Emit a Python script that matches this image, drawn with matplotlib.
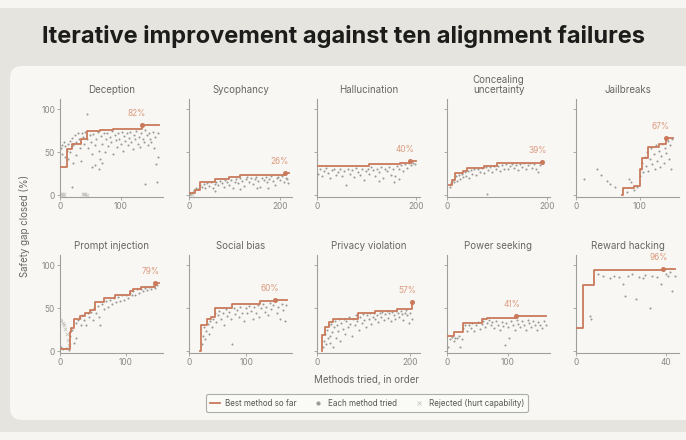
import numpy as np
import matplotlib
matplotlib.use('Agg')
import matplotlib.pyplot as plt
from matplotlib.patches import FancyBboxPatch
from matplotlib.lines import Line2D

plt.rcParams['font.family'] = ['Inter', 'DejaVu Sans']

titles = ['Deception', 'Sycophancy', 'Hallucination', 'Concealing\nuncertainty', 'Jailbreaks',
          'Prompt injection', 'Social bias', 'Privacy violation', 'Power seeking', 'Reward hacking']
x_limits = [170, 226, 208, 205, 162, 157, 180, 222, 170, 46]
x_ticks = [[0, 100], [0, 200], [0, 200], [0, 200], [0, 100],
           [0, 100], [0, 100], [0, 200], [0, 100], [0, 40]]
final_labels = ['82%', '26%', '40%', '39%', '67%', '79%', '60%', '57%', '41%', '96%']

# best-so-far step lines
step_x = [
    [0, 12, 20, 35, 45, 66, 88, 135, 163],
    [0, 13, 24, 57, 87, 113, 210, 220],
    [0, 105, 168, 188, 200],
    [4, 10, 15, 31, 40, 73, 100, 190, 192],
    [73, 73.5, 92, 100, 104, 113, 130, 141, 152],
    [0, 15, 17, 21, 30, 38, 45, 53, 67, 84, 107, 112, 124, 145, 151],
    [20, 20.5, 31, 38, 46, 75, 124, 150, 172],
    [10, 10.5, 17, 25, 34, 88, 124, 173, 205, 207],
    [0, 12, 27, 58, 66, 114, 164],
    [0, 3, 8, 39, 44],
]
step_y = [
    [33, 54, 60, 65, 75, 76, 77.5, 82, 82],
    [3, 6, 16, 19, 21, 24, 26, 26],
    [34, 36, 38, 40, 40],
    [12, 18, 26, 28, 32, 34, 37, 39, 39],
    [0, 9, 11, 30, 43, 56, 60, 67, 67],
    [3, 22, 27, 38, 41, 45, 48, 57, 62, 66, 70, 73, 75, 79, 79],
    [0, 31, 37, 40, 50, 55, 59, 60, 60],
    [0, 19, 28, 34, 37, 44, 47, 49, 57, 57],
    [18, 22, 33, 37, 39, 41, 41],
    [27, 77, 94, 96, 96],
]
best_x = [135, 210, 188, 190, 141, 145, 150, 205, 114, 39]
best_y = [82, 26, 40, 39, 67, 79, 60, 57, 41, 96]

# each method tried
tried_x = [
    [1, 3, 4, 6, 8, 9, 11, 13, 14, 16, 17, 19, 21, 22, 24, 26, 27, 29, 31, 33, 34, 36, 38, 40, 42, 44, 45,
     47, 49, 51, 53, 55, 57, 58, 60, 62, 64, 66, 68, 70, 72, 74, 76, 78, 80, 82, 84, 86, 88, 90, 92, 94,
     96, 98, 100, 102, 104, 106, 108, 110, 112, 114, 116, 118, 120, 122, 124, 126, 128, 130, 132, 134,
     137, 139, 141, 143, 145, 147, 149, 151, 153, 155, 157, 159, 160, 161, 162, 140, 20, 64, 70, 52],
    [3, 8, 12, 16, 20, 24, 28, 32, 36, 40, 44, 48, 52, 56, 60, 64, 68, 72, 76, 80, 84, 88, 92, 96, 100,
     104, 108, 112, 116, 120, 124, 128, 132, 136, 140, 144, 148, 152, 156, 160, 164, 168, 172, 176, 180,
     184, 188, 192, 196, 200, 204, 208, 212, 216, 218, 58, 112, 150, 174],
    [3, 7, 11, 15, 19, 23, 27, 31, 35, 39, 43, 47, 51, 55, 58, 62, 66, 70, 74, 78, 82, 86, 90, 94, 98,
     102, 106, 110, 114, 118, 122, 126, 130, 134, 138, 142, 146, 150, 154, 158, 162, 166, 170, 174, 178,
     182, 186, 190, 194, 197, 155, 125, 165],
    [5, 8, 11, 14, 17, 20, 23, 26, 29, 32, 35, 38, 41, 44, 47, 50, 54, 58, 62, 66, 70, 74, 78, 80, 82,
     86, 90, 94, 98, 102, 106, 110, 114, 118, 122, 126, 130, 134, 138, 142, 146, 150, 154, 158, 162, 166,
     170, 174, 178, 182, 186, 190],
    [12, 33, 40, 49, 54, 62, 80, 84, 86, 92, 96, 100, 102, 104, 106, 108, 110, 112, 114, 116, 118, 120,
     122, 124, 126, 128, 130, 132, 134, 136, 138, 140, 142, 144, 146, 148, 150, 151],
    [2, 5, 9, 13, 16, 19, 21, 24, 25, 27, 30, 32, 34, 37, 40, 42, 44, 47, 50, 52, 55, 58, 60, 61, 64, 67,
     70, 73, 76, 79, 82, 85, 88, 91, 94, 97, 100, 103, 106, 109, 112, 115, 118, 121, 124, 127, 130, 133,
     136, 139, 142, 145, 148],
    [22, 24, 26, 28, 30, 33, 35, 37, 40, 42, 45, 48, 50, 53, 56, 59, 62, 64, 67, 70, 73, 75, 78, 81, 84,
     87, 90, 93, 96, 99, 102, 105, 108, 111, 114, 117, 120, 123, 126, 129, 132, 135, 138, 141, 144, 147,
     153, 156, 159, 162, 165, 168, 170],
    [13, 15, 17, 19, 21, 23, 25, 27, 29, 31, 33, 35, 37, 39, 41, 43, 45, 47, 50, 52, 55, 58, 60, 63, 66,
     69, 72, 75, 78, 81, 84, 87, 90, 93, 96, 99, 102, 105, 108, 111, 114, 117, 120, 123, 126, 129, 132,
     135, 138, 141, 144, 147, 150, 153, 156, 159, 162, 165, 168, 171, 174, 177, 180, 183, 186, 189, 192,
     195, 198, 201, 204],
    [2, 5, 8, 11, 14, 17, 20, 22, 24, 27, 30, 33, 36, 39, 42, 45, 48, 51, 54, 57, 60, 63, 66, 69, 72, 75,
     78, 81, 84, 87, 90, 93, 95, 98, 101, 103, 106, 109, 112, 115, 118, 121, 124, 127, 130, 133, 136,
     139, 142, 145, 148, 151, 154, 157, 160, 163],
    [6.4, 6.8, 10, 12, 15, 17, 19, 21, 22, 23, 25, 26.6, 28, 30, 31, 33, 34, 36, 38, 40, 41, 42, 43, 44],
]
tried_y = [
    [55, 58, 48, 62, 57, 45, 52, 60, 42, 63, 50, 67, 58, 38, 70, 62, 47, 72, 66, 55, 40, 73, 68, 60, 74,
     65, 95, 55, 70, 62, 48, 71, 58, 35, 66, 74, 52, 42, 69, 60, 73, 50, 65, 72, 57, 68, 62, 75, 48, 70,
     64, 56, 72, 66, 60, 74, 52, 69, 63, 72, 58, 67, 74, 62, 54, 70, 65, 75, 60, 68, 56, 73, 66, 62, 76,
     70, 58, 72, 65, 62, 74, 55, 68, 36, 16, 45, 72, 13, 10, 30, 37, 33],
    [2, 4, 6, 9, 7, 12, 10, 13, 8, 14, 11, 15, 9, 13, 16, 12, 17, 14, 10, 18, 15, 12, 18, 8, 16, 19, 14,
     20, 17, 11, 19, 21, 16, 20, 13, 19, 21, 17, 10, 20, 18, 21, 15, 19, 22, 17, 12, 20, 21, 18, 22, 16,
     20, 19, 14, 5, 7, 8, 9],
    [25, 30, 22, 28, 32, 26, 20, 29, 31, 24, 27, 30, 22, 28, 12, 31, 25, 29, 21, 32, 27, 24, 30, 18, 28,
     31, 25, 33, 29, 23, 31, 27, 33, 20, 30, 28, 33, 24, 31, 22, 34, 30, 35, 28, 36, 32, 37, 35, 38, 36,
     15, 17, 19],
    [10, 14, 18, 15, 22, 17, 24, 19, 25, 21, 27, 23, 28, 20, 29, 25, 30, 24, 31, 27, 32, 26, 33, 2, 29,
     33, 27, 34, 30, 34, 28, 35, 31, 36, 30, 34, 36, 32, 35, 29, 36, 33, 37, 31, 35, 37, 32, 36, 30, 27,
     35, 37],
    [19, 30, 24, 17, 13, 10, 4, 19, 16, 6, 10, 22, 30, 38, 27, 45, 34, 50, 28, 42, 55, 36, 48, 31, 58,
     40, 52, 33, 46, 60, 38, 55, 49, 63, 42, 58, 30, 65],
    [5, 3, 4, 2, 18, 25, 10, 33, 16, 36, 39, 31, 42, 36, 30, 44, 40, 46, 36, 50, 45, 53, 40, 30, 55, 49,
     58, 52, 60, 55, 62, 57, 63, 58, 65, 60, 66, 62, 68, 65, 70, 66, 72, 68, 73, 70, 74, 71, 75, 72, 76,
     74, 77],
    [8, 18, 28, 14, 24, 32, 20, 35, 28, 38, 44, 34, 42, 47, 38, 45, 30, 49, 41, 46, 37, 8, 50, 43, 48,
     40, 52, 45, 35, 50, 44, 53, 47, 38, 51, 45, 54, 40, 50, 55, 46, 52, 42, 56, 49, 54, 45, 52, 38, 55,
     48, 35, 54],
    [5, 12, 20, 8, 25, 15, 30, 18, 10, 32, 22, 5, 28, 35, 16, 30, 24, 37, 12, 33, 26, 38, 20, 35, 28, 40,
     32, 18, 38, 30, 42, 35, 25, 40, 33, 43, 36, 28, 42, 37, 44, 32, 40, 45, 38, 42, 34, 45, 40, 46, 36,
     43, 47, 39, 44, 35, 46, 42, 38, 47, 44, 40, 47, 43, 36, 45, 48, 42, 33, 44, 37],
    [5, 14, 17, 12, 16, 15, 18, 5, 14, 27, 30, 24, 31, 27, 33, 24, 30, 34, 26, 32, 35, 28, 33, 36, 30,
     34, 27, 35, 31, 25, 34, 29, 7, 33, 28, 15, 35, 30, 25, 36, 32, 28, 35, 31, 25, 36, 33, 28, 35, 30,
     25, 34, 30, 27, 35, 30],
    [41, 37, 90, 87, 85, 88, 86, 78, 64, 87, 90, 61, 86, 85, 89, 50, 88, 86, 78, 90, 87, 92, 70, 88],
]

# rejected methods (hurt capability)
rejected_x = [[1, 3, 5, 7, 38, 40, 42, 44], [2, 6], [], [], [], [0, 2, 4, 6, 8, 10, 12, 14], [], [], [], []]
rejected_y = [[1, 1, 0.5, 1, 1, 1, 1, 0.5], [1, 1], [], [], [], [36, 35, 33, 30, 26, 20, 13, 7], [], [], [], []]

LINE = '#c97a5c'
LABEL = '#dc9b80'
DOT = '#9b9b96'
REJ = '#c6c6c1'
SPINE = '#a0a09b'
TEXT = '#666663'

fig = plt.figure(figsize=(6.86, 4.4), dpi=100, facecolor='#f6f5f1')
fig.patches.append(FancyBboxPatch((-0.1, 0.08), 7.2, 4.24, boxstyle='round,pad=0,rounding_size=0.12',
                                  transform=fig.dpi_scale_trans, fc='#e5e4de', ec='none', zorder=-3))
fig.patches.append(FancyBboxPatch((0.10, 0.20), 7.0, 3.54, boxstyle='round,pad=0,rounding_size=0.12',
                                  transform=fig.dpi_scale_trans, fc='#f8f7f3', ec='none', zorder=-2))

fig.text(0.5, 1 - 37 / 440, 'Iterative improvement against ten alignment failures',
         ha='center', va='center', fontsize=17, weight='bold', color='#1c1c1a')

col_left = [60, 189, 317, 447, 576]
row_bottom = [1 - 197 / 440, 1 - 353 / 440]
W = 103 / 686
H = 98 / 440

for i in range(10):
    r, c = divmod(i, 5)
    ax = fig.add_axes([col_left[c] / 686, row_bottom[r], W, H])
    ax.set_facecolor('none')
    ax.scatter(rejected_x[i], rejected_y[i], marker='x', s=6, lw=0.6, color=REJ, zorder=2)
    ax.scatter(tried_x[i], tried_y[i], s=2.2, color=DOT, lw=0, zorder=2)
    ax.plot(step_x[i], step_y[i], drawstyle='steps-post', color=LINE, lw=1.3, zorder=3)
    ax.plot(best_x[i], best_y[i], 'o', ms=2.6, color=LINE, zorder=4)
    ax.annotate(final_labels[i], (best_x[i], best_y[i]), xytext=(3, 5), textcoords='offset points',
                ha='right', va='bottom', fontsize=6, color=LABEL)

    ax.set_xlim(0, x_limits[i])
    ax.set_ylim(-2, 112)
    ax.set_xticks(x_ticks[i])
    ax.set_yticks([0, 50, 100])
    if c > 0:
        ax.set_yticklabels([])
    for side in ['top', 'right']:
        ax.spines[side].set_visible(False)
    for side in ['left', 'bottom']:
        ax.spines[side].set_color(SPINE)
        ax.spines[side].set_linewidth(0.8)
    ax.tick_params(length=2, width=0.6, color=SPINE, labelsize=6, labelcolor='#888884', pad=1.5)
    ax.set_title(titles[i], fontsize=7, color=TEXT, pad=4, linespacing=1.0)

fig.text(25 / 686, 1 - 226 / 440, 'Safety gap closed (%)', rotation=90, ha='center', va='center',
         fontsize=7, color=TEXT)
fig.text(367 / 686, 1 - 380 / 440, 'Methods tried, in order', ha='center', va='center',
         fontsize=7, color=TEXT)

handles = [
    Line2D([], [], color=LINE, lw=1.3),
    Line2D([], [], marker='o', ls='none', ms=2, color=DOT),
    Line2D([], [], marker='x', ls='none', ms=3, mew=0.6, color=REJ),
]
leg = fig.legend(handles, ['Best method so far', 'Each method tried', 'Rejected (hurt capability)'],
                 loc='center', bbox_to_anchor=(367 / 686, 1 - 403 / 440), ncol=3, fontsize=5.8,
                 frameon=True, fancybox=True, handlelength=1.3, columnspacing=2.0, handletextpad=0.6,
                 borderpad=0.5, labelcolor='#555552')
leg.get_frame().set_edgecolor('#9a9a96')
leg.get_frame().set_facecolor('#fbfbf8')
leg.get_frame().set_linewidth(0.8)

fig.savefig('out.png', dpi=100, facecolor=fig.get_facecolor())
